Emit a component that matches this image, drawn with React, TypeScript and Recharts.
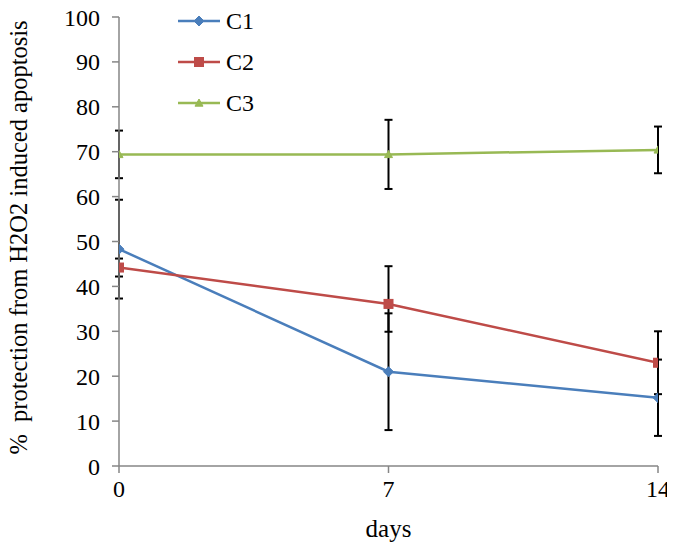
import React from 'react';
import { LineChart, Line, XAxis, YAxis, ErrorBar, Legend, Label } from 'recharts';

const days = [0, 7, 14];
const c1 = [48.3, 21.0, 15.2];
const c2 = [44.2, 36.1, 23.0];
const c3 = [69.4, 69.4, 70.4];
// [lower, upper]
const c1Err = [[11, 11], [13, 13], [8.5, 8.5]];
const c2Err = [[2, 2], [6.2, 8.4], [7, 7]];
const c3Err = [[5.3, 5.3], [7.7, 7.7], [5.2, 5.2]];
const yTicks = [0, 10, 20, 30, 40, 50, 60, 70, 80, 90, 100];

const FONT = '"Liberation Serif", "Times New Roman", serif';

const series = [
  { key: 'C1', err: 'C1err', color: '#4A7EBB', shape: 'diamond' },
  { key: 'C2', err: 'C2err', color: '#BE4B48', shape: 'square' },
  { key: 'C3', err: 'C3err', color: '#98B954', shape: 'triangle' },
];

const data = days.map((d, i) => ({
  day: d,
  C1: c1[i],
  C2: c2[i],
  C3: c3[i],
  C1err: c1Err[i],
  C2err: c2Err[i],
  C3err: c3Err[i],
}));

const Marker = ({ cx, cy, shape, color }: any) => {
  if (cx == null || cy == null) return null;
  if (shape === 'diamond') {
    const r = 5;
    return <path d={`M${cx},${cy - r}L${cx + r},${cy}L${cx},${cy + r}L${cx - r},${cy}Z`} fill={color} stroke={color} />;
  }
  if (shape === 'square') {
    const r = 4.5;
    return <rect x={cx - r} y={cy - r} width={2 * r} height={2 * r} fill={color} stroke={color} />;
  }
  const r = 4;
  return <path d={`M${cx},${cy - r}L${cx + r},${cy + r * 0.8}L${cx - r},${cy + r * 0.8}Z`} fill={color} stroke={color} />;
};

const LegendBox = () => (
  <div style={{ fontFamily: FONT, fontSize: 24, color: '#000', lineHeight: 1 }}>
    {series.map((s) => (
      <div key={s.key} style={{ display: 'flex', alignItems: 'center', height: 41 }}>
        <svg width={46} height={14}>
          <line x1={0} y1={7} x2={42} y2={7} stroke={s.color} strokeWidth={2.5} />
          <Marker cx={21} cy={7} shape={s.shape} color={s.color} />
        </svg>
        <span style={{ marginLeft: 2 }}>{s.key}</span>
      </div>
    ))}
  </div>
);

const YLabel = ({ viewBox }: any) => {
  const x = viewBox.x + 18;
  const y = viewBox.y + viewBox.height / 2 - 4;
  return (
    <text x={x} y={y} transform={`rotate(-90, ${x}, ${y})`} textAnchor="middle" dominantBaseline="central"
      fontFamily={FONT} fontSize={24.5} fill="#000">
      %{'\u00a0\u00a0'}protection from H2O2 induced apoptosis
    </text>
  );
};

export default function App() {
  return (
    <div style={{ margin: -8 }}>
      <LineChart width={675} height={551} data={data} margin={{ top: 17, right: 17, bottom: 9, left: 0 }}>
        <XAxis
          dataKey="day"
          type="number"
          domain={[0, 14]}
          ticks={days}
          allowDataOverflow
          stroke="#868686"
          strokeWidth={1.5}
          tickSize={7}
          tickMargin={7}
          height={76}
          tick={{ fill: '#000', fontFamily: FONT, fontSize: 24 }}
        >
          <Label value="days" position="insideBottom" offset={5} fill="#000" fontFamily={FONT} fontSize={25} />
        </XAxis>
        <YAxis
          type="number"
          domain={[0, 100]}
          ticks={yTicks}
          interval={0}
          allowDataOverflow
          stroke="#868686"
          strokeWidth={1.5}
          tickSize={7}
          tickMargin={12}
          width={119}
          tick={{ fill: '#000', fontFamily: FONT, fontSize: 24 }}
        >
          <Label content={<YLabel />} />
        </YAxis>
        <Legend
          layout="vertical"
          verticalAlign="middle"
          align="center"
          content={<LegendBox />}
          wrapperStyle={{ left: 178, top: 0, width: 120 }}
        />
        {series.map((s) => (
          <Line
            key={s.key}
            dataKey={s.key}
            stroke={s.color}
            strokeWidth={2.5}
            isAnimationActive={false}
            dot={(p: any) => <Marker key={`${s.key}-${p.index}`} cx={p.cx} cy={p.cy} shape={s.shape} color={s.color} />}
          >
            <ErrorBar dataKey={s.err} direction="y" stroke="#000" strokeWidth={2} width={4} />
          </Line>
        ))}
      </LineChart>
    </div>
  );
}
